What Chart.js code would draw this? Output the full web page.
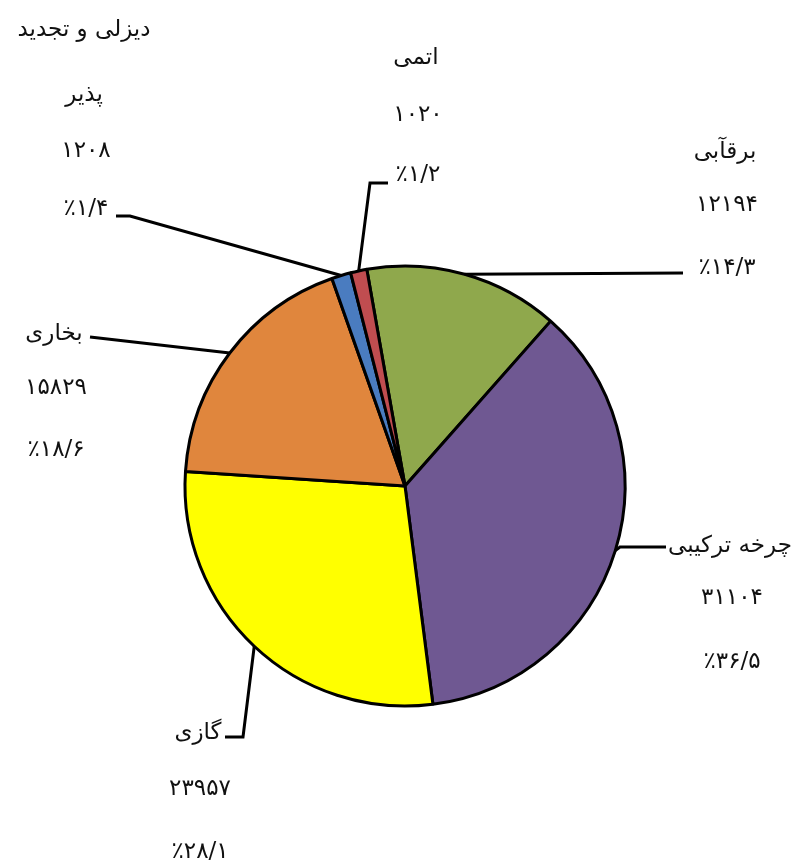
<!DOCTYPE html>
<html>

<head>
    <meta charset="utf-8">
    <title>سهم ظرفیت نیروگاه‌ها</title>
    <style>
        html, body { margin: 0; padding: 0; background: #fff; }
        canvas { display: block; }
    </style>
</head>

<body>
    <canvas id="myChart" width="795" height="864"></canvas>
    <script src="https://cdn.jsdelivr.net/npm/chart.js@4.4.6/dist/chart.umd.min.js"></script>
    <script>
        // slices, clockwise from the top (green first)
        const labels = [["برقآبی"], ["چرخه ترکیبی"], ["گازی"], ["بخاری"], ["دیزلی و تجدید", "پذیر"], ["اتمی"]]
        const values = [12194, 31104, 23957, 15829, 1208, 1020]
        const percents = [14.3, 36.5, 28.1, 18.6, 1.4, 1.2]
        const colors = ["#8fa84c", "#6f5892", "#ffff00", "#e0863d", "#4a7cc0", "#c04d50"]

        // where each label sits and how its leader line bends
        const labelLayout = [
            { x: 725, ys: [152, 205, 268], path: [[683, 273]] },
            { x: 730, ys: [546, 598, 662], path: [[620, 547], [666, 547]] },
            { x: 198, ys: [733, 789, 852], path: [[243, 737], [225, 737]] },
            { x: 54, ys: [334, 388, 450], path: [[90, 337]] },
            { x: 84, ys: [30, 95, 151, 209], path: [[130, 216], [116, 216]] },
            { x: 416, ys: [58, 115, 175], path: [[370, 183], [388, 183]] },
        ]

        const faDigits = "۰۱۲۳۴۵۶۷۸۹"
        const toFa = s => String(s).replace(/\d/g, d => faDigits[d])

        const leaderLabels = {
            id: "leaderLabels",
            afterDatasetsDraw(chart, args, opts) {
                const ctx = chart.ctx
                const meta = chart.getDatasetMeta(0)
                meta.data.forEach((arc, i) => {
                    const lay = opts.layout[i]
                    const mid = (arc.startAngle + arc.endAngle) / 2
                    const sx = arc.x + Math.cos(mid) * arc.outerRadius
                    const sy = arc.y + Math.sin(mid) * arc.outerRadius
                    ctx.save()
                    ctx.strokeStyle = "#000"
                    ctx.lineWidth = 3
                    ctx.beginPath()
                    ctx.moveTo(sx, sy)
                    lay.path.forEach(p => ctx.lineTo(p[0], p[1]))
                    ctx.stroke()

                    const words = labels[i]
                    const nums = [toFa(values[i]), "٪" + toFa(String(percents[i]).replace(".", "/"))]
                    ctx.fillStyle = "#111"
                    ctx.font = "23px 'DejaVu Sans'"
                    ctx.textAlign = "center"
                    ctx.textBaseline = "middle"
                    ctx.direction = "ltr"
                    words.forEach((t, k) => ctx.fillText(t, lay.x, lay.ys[k]))
                    ctx.letterSpacing = "4px"
                    nums.forEach((t, k) => ctx.fillText(t, lay.x + 2, lay.ys[words.length + k]))
                    ctx.restore()
                })
            },
        }

        new Chart(document.getElementById("myChart"), {
            type: "pie",
            data: {
                labels: labels.map(l => l.join(" ")),
                datasets: [{
                    data: values,
                    backgroundColor: colors,
                    borderColor: "#000",
                    borderWidth: 3,
                    radius: 220,
                }],
            },
            options: {
                responsive: false,
                animation: false,
                rotation: -10,
                layout: {
                    padding: { left: 40, right: 25, top: 140, bottom: 32 },
                },
                plugins: {
                    legend: { display: false },
                    tooltip: { enabled: false },
                    leaderLabels: { layout: labelLayout },
                },
            },
            plugins: [leaderLabels],
        })
    </script>
</body>

</html>
